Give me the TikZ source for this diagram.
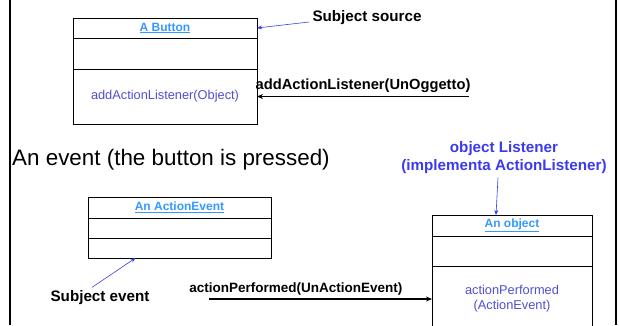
\documentclass[tikz,border=0pt]{standalone}
\usepackage{fontspec}
\setmainfont{Liberation Sans}
\usetikzlibrary{positioning,arrows.meta}
\definecolor{headblue}{HTML}{3399FF}
\definecolor{methblue}{HTML}{4F4FD0}
\definecolor{noteblue}{HTML}{3A3AF0}
\begin{document}
\begin{tikzpicture}[x=1pt, y=-1pt,
  cell/.style={draw, line width=0.8pt, inner sep=0pt, outer sep=0pt},
  head/.style={text=headblue, font=\fontsize{12}{14}\selectfont\bfseries},
  meth/.style={text=methblue, font=\fontsize{12.8}{15}\selectfont, align=center},
  note/.style={font=\fontsize{15.2}{18}\selectfont\bfseries},
  call/.style={font=\fontsize{14.7}{17}\selectfont\bfseries},
  flow/.style={-{Stealth[length=6pt,width=5pt]}, line width=1.2pt},
  hint/.style={-{Stealth[length=5pt,width=4pt]}, noteblue, line width=0.6pt}]
\useasboundingbox (0,0) rectangle (619,325);
\draw[line width=2pt] (10,0) -- (10,325);
\draw[line width=2pt] (616,0) -- (616,325);

% the button
\node[cell, head, minimum width=184pt, minimum height=20pt, anchor=north west] (btnhead) at (73,18) {\underline{A Button}};
\node[cell, minimum width=184pt, minimum height=31pt, below=0pt of btnhead] (btnattr) {};
\node[cell, meth, minimum width=184pt, minimum height=55pt, below=0pt of btnattr] (btnops) {addActionListener(Object)};

\node[note, anchor=west] (src) at (309,18) {Subject source};
\draw[hint] ([yshift=-4pt]src.west) -- (btnhead.east);

\coordinate (addsrc) at (469,96.5);
\draw[flow] (addsrc) -- node[call, above] {addActionListener(UnOggetto)} (btnops.east);

\node[font=\fontsize{22.4}{26}\selectfont, inner sep=0pt, anchor=west] (evtitle) at (12,160) {An event (the button is pressed)};

% the event
\node[cell, head, minimum width=183pt, minimum height=21pt, anchor=north west] (evhead) at (88,197) {\underline{An ActionEvent}};
\node[cell, minimum width=183pt, minimum height=20pt, below=0pt of evhead] (evattr) {};
\node[cell, minimum width=183pt, minimum height=20pt, below=0pt of evattr] (evops) {};

\node[note] (sevt) at (100,298) {Subject event};
\draw[hint] ([xshift=-8pt]sevt.north) -- ([xshift=-44pt]evops.south);

% the listener
\node[cell, head, minimum width=160pt, minimum height=21pt, anchor=north west] (objhead) at (432,215) {\underline{An object}};
\node[cell, minimum width=160pt, minimum height=30pt, below=0pt of objhead] (objattr) {};
\node[cell, meth, minimum width=160pt, minimum height=66pt, below=0pt of objattr] (objops) {actionPerformed\\(ActionEvent)};

\node[note, text=noteblue, align=center] (lst) at (504,158) {object Listener\\(implementa ActionListener)};
\draw[hint] ([xshift=-6pt]lst.south) -- ([xshift=-16pt]objhead.north);

\coordinate (evsrc) at (209,299);
\draw[flow] (evsrc) -- node[call, font=\fontsize{13.5}{16}\selectfont\bfseries, above, pos=0.39] {actionPerformed(UnActionEvent)} (objops.west);
\end{tikzpicture}
\end{document}
